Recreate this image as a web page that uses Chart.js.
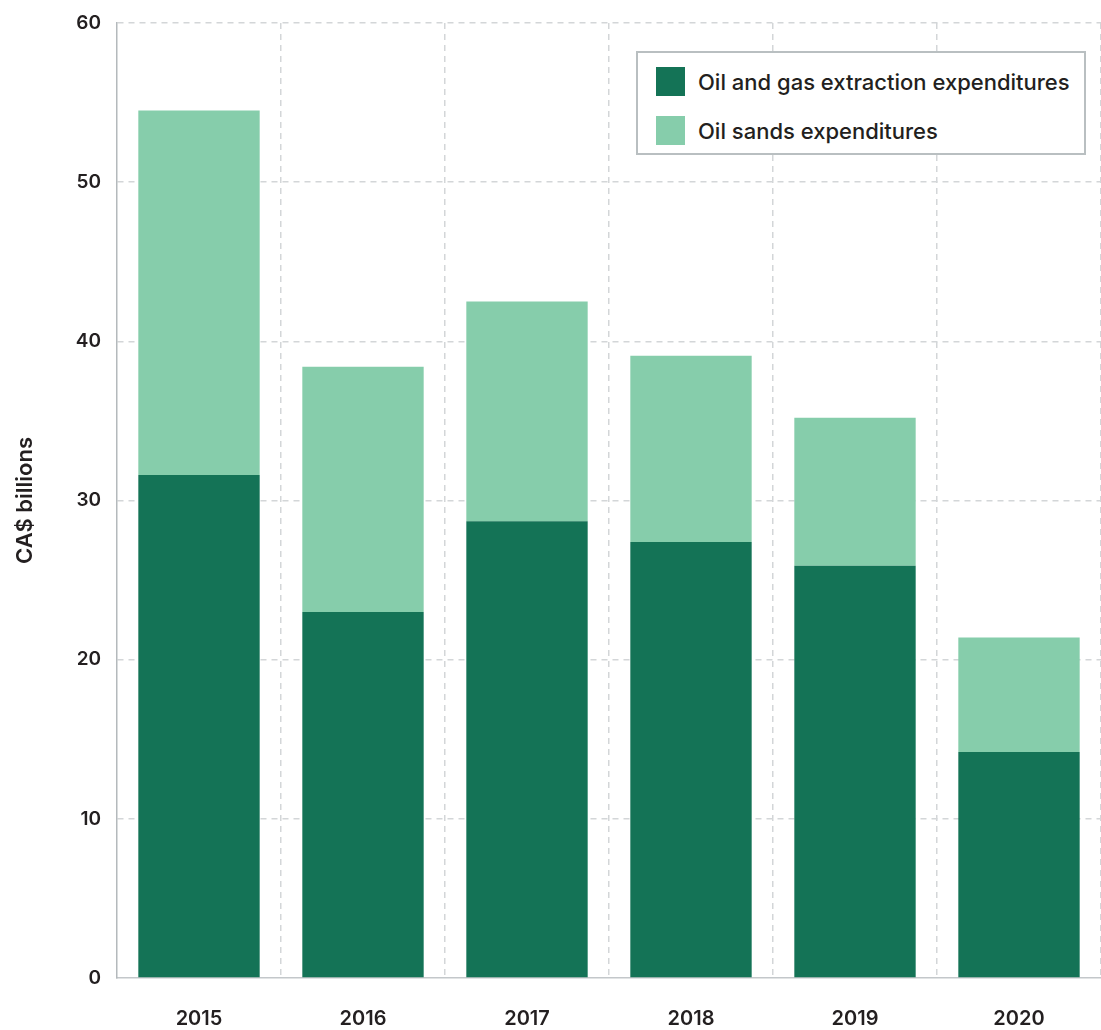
<!DOCTYPE html>
<html>
<head>
<meta charset="utf-8">
<script src="https://cdn.jsdelivr.net/npm/chart.js@4/dist/chart.umd.min.js"></script>
<style>
  html, body { margin: 0; padding: 0; background: #fff; }
  #wrap { position: relative; width: 1101px; height: 1030px; }
  #legend {
    position: absolute; left: 636px; top: 51px; width: 446px; height: 100px;
    border: 2px solid #b9bfc1; background: #fff;
    font-family: Inter, "Noto Sans", sans-serif; font-size: 22px; font-weight: 500; color: #231f20;
  }
  #legend .item { position: absolute; left: 18px; display: flex; align-items: center; }
  #legend .box { width: 29px; height: 29px; margin-right: 13px; }
</style>
</head>
<body>
<div id="wrap">
  <canvas id="myChart" width="1101" height="1030"></canvas>
  <div id="legend"></div>
</div>
<script>
const years = ["2015", "2016", "2017", "2018", "2019", "2020"];
const extraction = [31.6, 23.0, 28.7, 27.4, 25.9, 14.2];
const oilSands = [22.9, 15.4, 13.8, 11.7, 9.3, 7.2];
const yTicks = [0, 10, 20, 30, 40, 50, 60];

const darkGreen = "#147356";
const lightGreen = "#86cdab";
const textColor = "#231f20";
const gridColor = "#d3d6d8";
const fontFamily = "Inter, 'Noto Sans', sans-serif";

Chart.defaults.font.family = fontFamily;
Chart.defaults.color = textColor;

const datasets = [
  { label: "Oil and gas extraction expenditures", data: extraction, backgroundColor: darkGreen },
  { label: "Oil sands expenditures", data: oilSands, backgroundColor: lightGreen },
];

new Chart(document.getElementById("myChart").getContext("2d"), {
  type: "bar",
  data: { labels: years, datasets: datasets },
  options: {
    responsive: false,
    animation: false,
    layout: { padding: { top: 23, right: 0, left: 0, bottom: 0 } },
    datasets: { bar: { barPercentage: 1, categoryPercentage: 0.74, borderWidth: 0 } },
    plugins: { legend: { display: false }, tooltip: { enabled: false } },
    scales: {
      x: {
        stacked: true,
        grid: {
          offset: true,
          drawTicks: false,
          color: (ctx) => (ctx.index === 0 || ctx.index === years.length ? "rgba(0,0,0,0)" : gridColor),
          lineWidth: 1.5,
        },
        border: { display: true, color: "#c3c7ca", width: 1.5, dash: [6, 5] },
        ticks: { padding: 29, font: { size: 20, weight: "600" }, color: textColor },
        afterFit: (scale) => { scale.height = 52; scale.paddingLeft = 0; scale.paddingRight = 0; },
      },
      y: {
        stacked: true,
        min: 0,
        max: 60,
        afterBuildTicks: (scale) => { scale.ticks = yTicks.map((v) => ({ value: v })); },
        grid: {
          drawTicks: false,
          color: (ctx) => (ctx.tick && ctx.tick.value === 0 ? "rgba(0,0,0,0)" : gridColor),
          lineWidth: 1.5,
        },
        border: { display: true, color: "#b4b9bc", width: 1.5, dash: [6, 5] },
        ticks: { padding: 16, font: { size: 19, weight: "600" }, color: textColor },
        title: {
          display: true,
          text: "CA$ billions",
          font: { size: 22, weight: "600" },
          color: textColor,
          padding: { top: 12, bottom: 20 },
        },
        afterFit: (scale) => { scale.width = 117; scale.paddingTop = 0; scale.paddingBottom = 0; },
      },
    },
  },
});

// legend drawn as html box inside plot
const legend = document.getElementById("legend");
datasets.forEach((ds, i) => {
  const item = document.createElement("div");
  item.className = "item";
  item.style.top = (14 + i * 49) + "px";
  item.innerHTML = '<span class="box" style="background:' + ds.backgroundColor + '"></span><span>' + ds.label + "</span>";
  legend.appendChild(item);
});
</script>
</body>
</html>
